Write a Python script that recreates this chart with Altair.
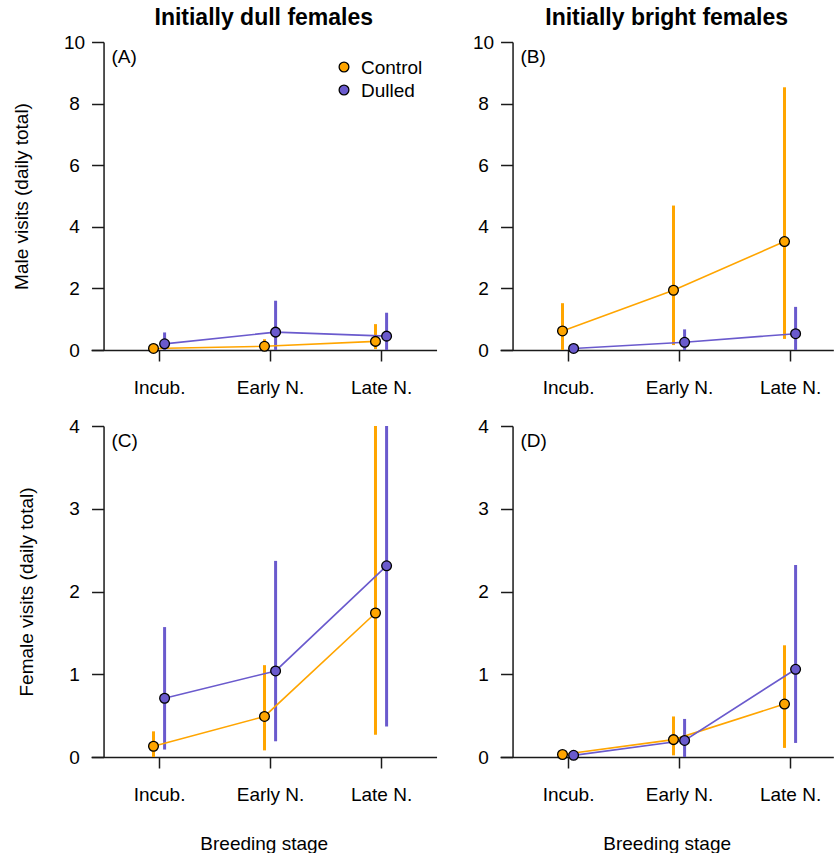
import altair as alt
import pandas as pd

stages = ["Incub.", "Early N.", "Late N."]
groups = ["Control", "Dulled"]
group_colors = ["#FFA500", "#6A5ACD"]

# (A) Male visits, initially dull females
A_control_mean = [0.05, 0.12, 0.28]
A_control_low = [0.00, 0.00, 0.03]
A_control_high = [0.10, 0.35, 0.84]
A_dulled_mean = [0.20, 0.58, 0.45]
A_dulled_low = [0.00, 0.00, 0.00]
A_dulled_high = [0.57, 1.60, 1.21]

# (B) Male visits, initially bright females
B_control_mean = [0.62, 1.94, 3.52]
B_control_low = [0.00, 0.16, 0.36]
B_control_high = [1.52, 4.69, 8.53]
B_dulled_mean = [0.05, 0.25, 0.53]
B_dulled_low = [0.00, 0.00, 0.00]
B_dulled_high = [0.08, 0.67, 1.40]

# (C) Female visits, initially dull females
C_control_mean = [0.13, 0.49, 1.74]
C_control_low = [0.00, 0.08, 0.27]
C_control_high = [0.31, 1.11, 4.00]
C_dulled_mean = [0.71, 1.04, 2.31]
C_dulled_low = [0.09, 0.19, 0.37]
C_dulled_high = [1.57, 2.37, 4.00]

# (D) Female visits, initially bright females
D_control_mean = [0.03, 0.21, 0.64]
D_control_low = [0.00, 0.02, 0.11]
D_control_high = [0.05, 0.49, 1.35]
D_dulled_mean = [0.02, 0.20, 1.06]
D_dulled_low = [0.00, 0.00, 0.17]
D_dulled_high = [0.04, 0.46, 2.32]

male_ticks = [0, 2, 4, 6, 8, 10]
female_ticks = [0, 1, 2, 3, 4]

FONT = "Liberation Sans"
INK = "#1a1a1a"
DODGE = 0.05
XMIN = 0.387
PX_PER_UNIT = 111


def make_df(cm, cl, ch, dm, dl, dh):
    rows = []
    for i, s in enumerate(stages):
        rows.append(dict(stage=s, idx=i + 1, group=groups[0], mean=cm[i], low=cl[i], high=ch[i]))
        rows.append(dict(stage=s, idx=i + 1, group=groups[1], mean=dm[i], low=dl[i], high=dh[i]))
    return pd.DataFrame(rows)


label_expr = " : ".join(
    f"datum.value == {i + 1} ? '{s}'" for i, s in enumerate(stages)
) + " : ''"

cscale = alt.Scale(domain=groups, range=group_colors)


def legend_layers():
    layers = []
    for i, g in enumerate(groups):
        gdf = pd.DataFrame({"group": [g]})
        ypix = 25 + 23 * i
        layers.append(alt.Chart(gdf).mark_point(
            filled=True, size=95, stroke="black", strokeWidth=1.3, opacity=1,
        ).encode(x=alt.value(253), y=alt.value(ypix),
                 fill=alt.Fill("group:N", scale=cscale, legend=None)))
        layers.append(alt.Chart(gdf).mark_text(
            align="left", baseline="middle", fontSize=19, font=FONT, color="black",
        ).encode(x=alt.value(270), y=alt.value(ypix + 1), text="group:N"))
    return layers


def panel(df, ymax, yticks, height, xmax, ytitle, xtitle, letter, title, legend):
    width = (xmax - XMIN) * PX_PER_UNIT
    xscale = alt.Scale(domain=[XMIN, xmax], nice=False, zero=False)
    yscale = alt.Scale(domain=[0, ymax], nice=False, zero=True)
    xaxis_kw = dict(
        values=[1, 2, 3], labelExpr=label_expr, tickSize=11, labelPadding=17,
        domainWidth=1.5, tickWidth=1.5, grid=False,
    )
    if xtitle:
        xaxis = alt.Axis(title=xtitle, titlePadding=30, **xaxis_kw)
    else:
        xaxis = alt.Axis(title=None, **xaxis_kw)
    yaxis_kw = dict(
        values=yticks, format="d", offset=-(0.5 - XMIN) * PX_PER_UNIT, tickSize=12,
        labelAlign="center", labelPadding=17.5, labelBaseline="middle",
        domainWidth=1.5, tickWidth=1.5, grid=False,
    )
    if ytitle:
        yaxis = alt.Axis(title=ytitle, titlePadding=32, **yaxis_kw)
    else:
        yaxis = alt.Axis(title=None, **yaxis_kw)
    base = alt.Chart(df).transform_calculate(
        xpos=f"datum.idx + (datum.group == '{groups[0]}' ? -{DODGE} : {DODGE})"
    )
    x = alt.X("xpos:Q", scale=xscale, axis=xaxis)
    bars = base.mark_rule(strokeWidth=3).encode(
        x=x,
        y=alt.Y("low:Q", scale=yscale, axis=yaxis),
        y2="high:Q",
        color=alt.Color("group:N", scale=cscale, legend=None),
    )
    lines = base.mark_line(strokeWidth=1.6).encode(
        x=x, y=alt.Y("mean:Q"),
        color=alt.Color("group:N", scale=cscale, legend=None),
        detail="group:N",
    )
    points = base.mark_point(filled=True, size=95, stroke="black", strokeWidth=1.3, opacity=1).encode(
        x=x, y=alt.Y("mean:Q"), fill=alt.Fill("group:N", scale=cscale, legend=None),
    )
    lab = alt.Chart(pd.DataFrame({"t": [letter]})).mark_text(
        align="left", baseline="top", fontSize=19, font=FONT, color="black", dx=8, dy=6,
    ).encode(x=alt.datum(0.5), y=alt.datum(ymax), text="t:N")
    layers = [bars, lines, points, lab]
    if legend:
        layers += legend_layers()
    ch = alt.layer(*layers).properties(width=width, height=height)
    if title:
        ch = ch.properties(title=alt.Title(
            title, fontSize=23, fontWeight="bold", font=FONT, color="black",
            anchor="middle", offset=3,
        ))
    return ch


pA = panel(make_df(A_control_mean, A_control_low, A_control_high, A_dulled_mean, A_dulled_low, A_dulled_high),
           10, male_ticks, 308, 3.5, "Male visits (daily total)", None, "(A)", "Initially dull females", True)
pB = panel(make_df(B_control_mean, B_control_low, B_control_high, B_dulled_mean, B_dulled_low, B_dulled_high),
           10, male_ticks, 308, 3.39, None, None, "(B)", "Initially bright females", False)
pC = panel(make_df(C_control_mean, C_control_low, C_control_high, C_dulled_mean, C_dulled_low, C_dulled_high),
           4, female_ticks, 331, 3.5, "Female visits (daily total)", "Breeding stage", "(C)", None, False)
pD = panel(make_df(D_control_mean, D_control_low, D_control_high, D_dulled_mean, D_dulled_low, D_dulled_high),
           4, female_ticks, 331, 3.39, None, "Breeding stage", "(D)", None, False)

chart = alt.concat(
    pA, pB, pC, pD, columns=2, spacing={"row": 76, "column": 63}, bounds="flush",
).resolve_scale(x="independent", y="independent").properties(
    padding={"left": 12, "top": 7, "right": 0, "bottom": 0},
    background="white",
).configure_view(stroke=None).configure_axis(
    labelFont=FONT, labelFontSize=19, labelColor="black",
    titleFont=FONT, titleFontSize=19, titleFontWeight="normal", titleColor="black",
    domainColor=INK, tickColor=INK,
)

chart.save("out.html", embed_options={"renderer": "svg", "actions": False})
